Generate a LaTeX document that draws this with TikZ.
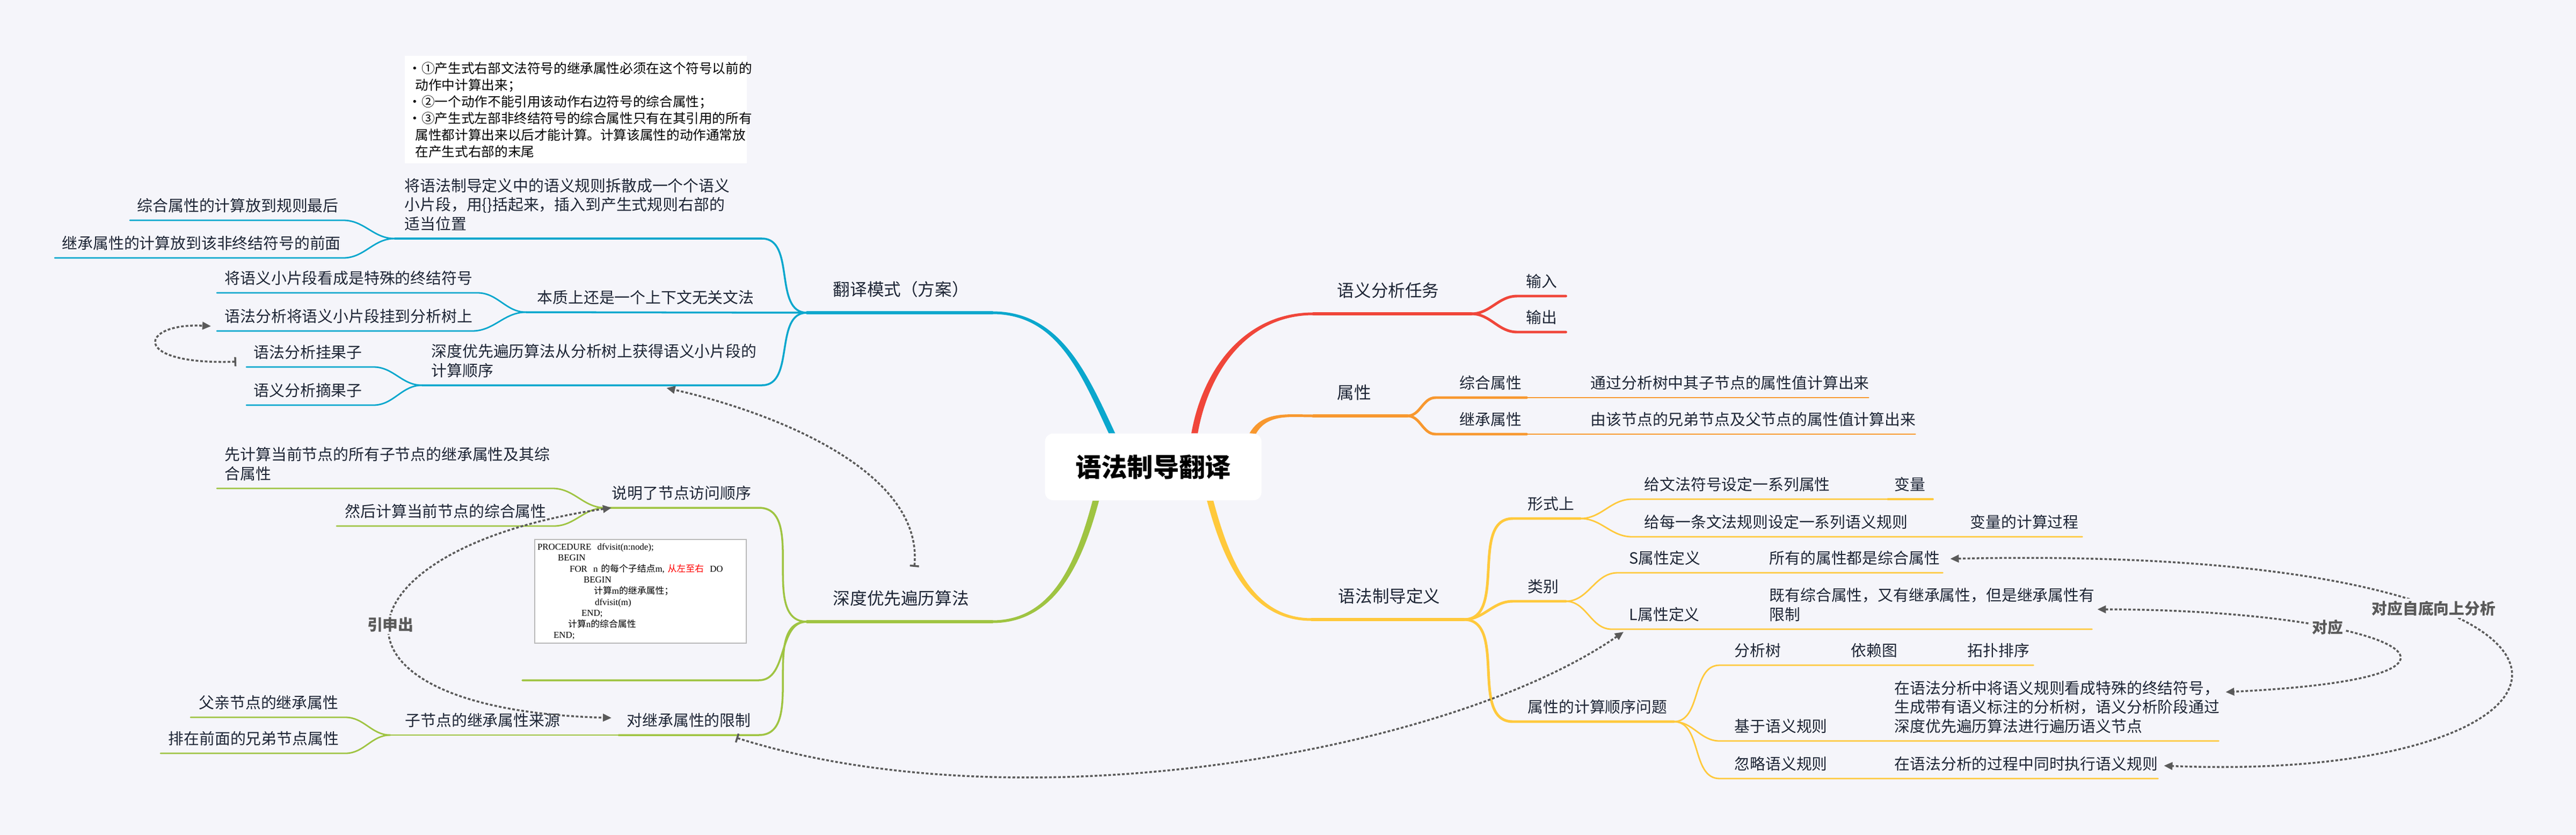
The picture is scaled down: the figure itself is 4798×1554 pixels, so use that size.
\documentclass[tikz,border=0pt]{standalone}
\usepackage{fontspec}
\setmainfont{Noto Sans CJK SC}
\newfontfamily\cjk{Noto Sans CJK SC}
\newfontfamily\codefont{Liberation Serif}
\usepackage{tikz}
\usetikzlibrary{shapes,arrows,arrows.meta}
\usetikzlibrary{calc}
\usetikzlibrary{positioning}

\definecolor{bg}{HTML}{F5F5FA}
\definecolor{ink}{HTML}{1D2535}
\definecolor{cblue}{HTML}{0AA7CD}
\definecolor{cred}{HTML}{F0463A}
\definecolor{corange}{HTML}{F8982F}
\definecolor{cyellow}{HTML}{FFC93C}
\definecolor{cgreen}{HTML}{9FC442}
\definecolor{cgray}{HTML}{5A5A5A}

\newcommand\fntroot{\fontsize{13.7}{16}\selectfont\bfseries}
\newcommand\fntmain{\fontsize{9}{11}\selectfont}
\newcommand\fntsub{\fontsize{8.2}{10}\selectfont}
\newcommand\fntrule{\fontsize{7}{8.8}\selectfont}
\newcommand\fntcode{\fontsize{4.8}{5.86}\selectfont}

\tikzstyle{rootbox} = [rectangle, rounded corners=0.15cm, fill=white, minimum width=4.03cm, minimum height=1.24cm, inner sep=0pt, font=\fntroot, text=black]
\tikzset{topic/.style 2 args={anchor=south west, align=left, text=ink, font=\fntsub, inner ysep=0.056cm, inner xsep=#2*0.01cm, text width=#1*0.01cm-#2*0.02cm, execute at end node=\strut}}
\tikzset{main/.style 2 args={topic={#1}{#2}, font=\fntmain, inner ysep=0.194cm}}
\tikzstyle{rulebox} = [fill=white, font=\fntrule, text=black, align=left, text width=6.23cm, inner xsep=0.07cm, inner ysep=0.08cm, minimum height=2cm]
\tikzstyle{codebox} = [draw=gray!55, line width=0.5pt, fill=white, font=\codefont\fntcode, text=black, align=left, text width=3.84cm, inner xsep=0.05cm, inner ysep=0.06cm, minimum height=1.93cm]
\tikzstyle{br1} = [line width=1.5pt, line cap=round]
\tikzstyle{brT} = [line width=1.4pt, line cap=round]
\tikzstyle{br2} = [line width=1pt, line cap=round]
\tikzstyle{br3} = [line width=0.8pt, line cap=round]
\tikzstyle{rel} = [draw=cgray, line width=1pt, dash pattern=on 0.05cm off 0.035cm, >={Triangle[length=0.16cm, width=0.14cm]}]
\tikzstyle{tee} = [{Bar[width=0.17cm]}->]
\tikzstyle{rellabel} = [fill=bg, text=cgray, font=\fntsub\bfseries, inner sep=0.04cm]

\begin{document}
\begin{tikzpicture}[x=0.01cm, y=-0.01cm]
\useasboundingbox (0,0) rectangle (4798,1554);
\fill[bg] (0,0) rectangle (4798,1554);

 \node[rootbox] (root) at (2148,869) {语法制导翻译};

 % left: translation scheme
 \node[main={344}{48}] (fanyi) at (1503,582) {翻译模式（方案）};
 \node[topic={683}{18}] (jiangyu) at (735,444) {将语法制导定义中的语义规则拆散成一个个语义\\小片段，用\{\}括起来，插入到产生式规则右部的\\适当位置};
 \node[rulebox, above right=0.21cm and 0.18cm of jiangyu.north west] (rules) {•①产生式右部文法符号的继承属性必须在这个符号以前的\\\hspace*{0.13cm}动作中计算出来；\\•②一个动作不能引用该动作右边符号的综合属性；\\•③产生式左部非终结符号的综合属性只有在其引用的所有\\\hspace*{0.13cm}属性都计算出来以后才能计算。计算该属性的动作通常放\\\hspace*{0.13cm}在产生式右部的末尾};
 \node[topic={396}{13}] (zonghe1) at (242,410) {综合属性的计算放到规则最后};
 \node[topic={536}{13}] (jicheng1) at (102,480) {继承属性的计算放到该非终结符号的前面};
 \node[topic={520}{20}] (benzhi) at (980,581) {本质上还是一个上下文无关文法};
 \node[topic={484}{14}] (kanzuo) at (404,545) {将语义小片段看成是特殊的终结符号};
 \node[topic={474}{14}] (guadao) at (404,616) {语法分析将语义小片段挂到分析树上};
 \node[topic={632}{17}] (huoqu) at (786,717) {深度优先遍历算法从分析树上获得语义小片段的\\计算顺序};
 \node[topic={235}{13}] (guaguo) at (459,683) {语法分析挂果子};
 \node[topic={235}{13}] (zhaiguo) at (459,754) {语义分析摘果子};

 % left: depth first traversal
 \node[main={344}{48}] (dfs) at (1503,1157) {深度优先遍历算法};
 \node[topic={285}{12}] (shunxu1) at (1127,945) {说明了节点访问顺序};
 \node[topic={624}{14}] (xianji) at (404,909) {先计算当前节点的所有子节点的继承属性及其综\\合属性};
 \node[topic={403}{15}] (ranhou) at (627,979) {然后计算当前节点的综合属性};
 \node[topic={439}{15}] (imgtopic) at (973,1266) {};
 \node[codebox, above=0.2cm of imgtopic] (code) {PROCEDURE\ \ dfvisit(n:node);\\
\hspace*{0.38cm}BEGIN\\
\hspace*{0.6cm}FOR\ \ n {\cjk 的每个子结点}m, \textcolor{red}{\cjk 从左至右}\ \ DO\\
\hspace*{0.86cm}BEGIN\\
\hspace*{1.05cm}{\cjk 计算}m{\cjk 的继承属性；}\\
\hspace*{1.07cm}dfvisit(m)\\
\hspace*{0.82cm}END;\\
\hspace*{0.57cm}{\cjk 计算}n{\cjk 的综合属性}\\
\hspace*{0.3cm}END;};
 \node[topic={260}{15}] (xianzhi) at (1152,1368) {对继承属性的限制};
 \node[topic={425}{27}] (laiyuan) at (727,1368) {子节点的继承属性来源};
 \node[topic={287}{15}] (fuqin) at (355,1335) {父亲节点的继承属性};
 \node[topic={343}{14}] (xiongdi) at (299,1402) {排在前面的兄弟节点属性};

 % right: tasks and attributes
 \node[main={293}{44}] (renwu) at (2446,584) {语义分析任务};
 \node[topic={89}{16}] (shuru) at (2826,551) {输入};
 \node[topic={89}{16}] (shuchu) at (2826,618) {输出};
 \node[main={174}{44}] (shuxing) at (2446,774) {属性};
 \node[topic={168}{44}] (zonghe2) at (2674,740) {综合属性};
 \node[topic={531}{14}] (tongguo) at (2948,740) {通过分析树中其子节点的属性值计算出来};
 \node[topic={168}{44}] (jicheng2) at (2674,808) {继承属性};
 \node[topic={618}{14}] (youlai) at (2948,808) {由该节点的兄弟节点及父节点的属性值计算出来};

 % right: definition
 \node[main={282}{49}] (dingyi) at (2443,1153) {语法制导定义};
 \node[topic={124}{27}] (xingshi) at (2818,965) {形式上};
 \node[topic={477}{22}] (gei1) at (3040,929) {给文法符号设定一系列属性};
 \node[topic={81}{11}] (bianliang) at (3517,929) {变量};
 \node[topic={605}{22}] (gei2) at (3040,999) {给每一条文法规则设定一系列语义规则};
 \node[topic={232}{24}] (guocheng) at (3645,999) {变量的计算过程};
 \node[topic={97}{27}] (leibie) at (2818,1119) {类别};
 \node[topic={268}{21}] (sdef) at (3013,1066) {S属性定义};
 \node[topic={336}{14}] (quanzong) at (3281,1066) {所有的属性都是综合属性};
 \node[topic={279}{32}] (ldef) at (3002,1171) {L属性定义};
 \node[topic={614}{14}] (youxian) at (3281,1171) {既有综合属性，又有继承属性，但是继承属性有\\限制};
 \node[topic={298}{27}] (shunxu2) at (2818,1343) {属性的计算顺序问题};
 \node[topic={230}{27}] (fenxishu) at (3203,1238) {分析树};
 \node[topic={217}{14}] (yilai) at (3433,1238) {依赖图};
 \node[topic={136}{14}] (tuopu) at (3650,1238) {拓扑排序};
 \node[topic={311}{27}] (jiyu) at (3203,1379) {基于语义规则};
 \node[topic={617}{14}] (jiyutext) at (3514,1379) {在语法分析中将语义规则看成特殊的终结符号，\\生成带有语义标注的分析树，语义分析阶段通过\\深度优先遍历算法进行遍历语义节点};
 \node[topic={311}{27}] (hulue) at (3203,1449) {忽略语义规则};
 \node[topic={504}{14}] (huluetext) at (3514,1449) {在语法分析的过程中同时执行语义规则};

 % main branches, thick at the root
 \fill[cblue] ($(root.north)+(-83,0)$) to[out=115,in=0] ($(fanyi.south east)+(0,2.5)$) -- ($(fanyi.south east)+(0,-2.5)$) to[out=0,in=115] ($(root.north)+(-71,0)$) -- cycle;
 \fill[cred] ($(root.north)+(71,0)$) to[out=80,in=180] ($(renwu.south west)+(0,-2.5)$) -- ($(renwu.south west)+(0,2.5)$) to[out=180,in=80] ($(root.north)+(83,0)$) -- cycle;
 \fill[corange] ($(root.north east)+(-23,0)$) to[out=60,in=180] ($(shuxing.south west)+(0,-2.5)$) -- ($(shuxing.south west)+(0,2.5)$) to[out=180,in=60] ($(root.north east)+(-11,1)$) -- cycle;
 \fill[cyellow] ($(root.south)+(112,0)$) to[out=-75,in=180] ($(dingyi.south west)+(0,-2.5)$) -- ($(dingyi.south west)+(0,2.5)$) to[out=180,in=-75] ($(root.south)+(100,0)$) -- cycle;
 \fill[cgreen] ($(root.south)+(-101,0)$) to[out=-105,in=0] ($(dfs.south east)+(0,2.5)$) -- ($(dfs.south east)+(0,-2.5)$) to[out=0,in=-105] ($(root.south)+(-113,0)$) -- cycle;

 % blue
 \draw[br1, cblue] (fanyi.south west) -- (fanyi.south east);
 \draw[br2, cblue] (jiangyu.south west) -- (jiangyu.south east) to[out=0,in=180] (fanyi.south west);
 \draw[br2, cblue] (benzhi.south west) -- (fanyi.south west);
 \draw[br2, cblue] (huoqu.south west) -- (huoqu.south east) to[out=0,in=180] (fanyi.south west);
 \draw[br3, cblue] (zonghe1.south west) -- (zonghe1.south east) to[out=0,in=180] (jiangyu.south west);
 \draw[br3, cblue] (jicheng1.south west) -- (jicheng1.south east) to[out=0,in=180] (jiangyu.south west);
 \draw[br3, cblue] (kanzuo.south west) -- (kanzuo.south east) to[out=0,in=180] (benzhi.south west);
 \draw[br3, cblue] (guadao.south west) -- (guadao.south east) to[out=0,in=180] (benzhi.south west);
 \draw[br3, cblue] (guaguo.south west) -- (guaguo.south east) to[out=0,in=180] (huoqu.south west);
 \draw[br3, cblue] (zhaiguo.south west) -- (zhaiguo.south east) to[out=0,in=180] (huoqu.south west);

 % green
 \draw[br1, cgreen] (dfs.south west) -- (dfs.south east);
 \draw[br2, cgreen] (shunxu1.south west) -- (shunxu1.south east) to[out=0,in=180] (dfs.south west);
 \draw[br2, cgreen] (imgtopic.south west) -- (imgtopic.south east) to[out=0,in=180] (dfs.south west);
 \draw[br2, cgreen] (xianzhi.south west) -- (xianzhi.south east) to[out=0,in=180] (dfs.south west);
 \draw[br3, cgreen] (xianji.south west) -- (xianji.south east) to[out=0,in=180] (shunxu1.south west);
 \draw[br3, cgreen] (ranhou.south west) -- (ranhou.south east) to[out=0,in=180] (shunxu1.south west);
 \draw[br3, cgreen] (laiyuan.south west) -- (xianzhi.south west);
 \draw[br3, cgreen] (fuqin.south west) -- (fuqin.south east) to[out=0,in=180] (laiyuan.south west);
 \draw[br3, cgreen] (xiongdi.south west) -- (xiongdi.south east) to[out=0,in=180] (laiyuan.south west);

 % red and orange
 \draw[br1, cred] (renwu.south west) -- (renwu.south east);
 \draw[brT, cred] (renwu.south east) to[out=0,in=180] (shuru.south west) -- (shuru.south east);
 \draw[brT, cred] (renwu.south east) to[out=0,in=180] (shuchu.south west) -- (shuchu.south east);
 \draw[br1, corange] (shuxing.south west) -- (shuxing.south east);
 \draw[brT, corange] (shuxing.south east) to[out=0,in=180] (zonghe2.south west) -- (zonghe2.south east);
 \draw[brT, corange] (shuxing.south east) to[out=0,in=180] (jicheng2.south west) -- (jicheng2.south east);
 \draw[br3, corange] (zonghe2.south east) -- (tongguo.south east);
 \draw[br3, corange] (jicheng2.south east) -- (youlai.south east);

 % yellow
 \draw[br1, cyellow] (dingyi.south west) -- (dingyi.south east);
 \draw[brT, cyellow] (dingyi.south east) to[out=0,in=180] (xingshi.south west) -- (xingshi.south east);
 \draw[brT, cyellow] (dingyi.south east) to[out=0,in=180] (leibie.south west) -- (leibie.south east);
 \draw[brT, cyellow] (dingyi.south east) to[out=0,in=180] (shunxu2.south west) -- (shunxu2.south east);
 \draw[br3, cyellow] (xingshi.south east) to[out=0,in=180] (gei1.south west) -- (gei1.south east);
 \draw[brT, cyellow] (bianliang.south west) -- (bianliang.south east);
 \draw[br3, cyellow] (xingshi.south east) to[out=0,in=180] (gei2.south west) -- (guocheng.south east);
 \draw[br3, cyellow] (leibie.south east) to[out=0,in=180] (sdef.south west) -- (quanzong.south east);
 \draw[br3, cyellow] (leibie.south east) to[out=0,in=180] (ldef.south west) -- (youxian.south east);
 \draw[br3, cyellow] (shunxu2.south east) to[out=0,in=180] (fenxishu.south west) -- (tuopu.south east);
 \draw[br3, cyellow] (shunxu2.south east) to[out=0,in=180] (jiyu.south west) -- (jiyutext.south east);
 \draw[br3, cyellow] (shunxu2.south east) to[out=0,in=180] (hulue.south west) -- (huluetext.south east);

 % relations
 \path[rel, tee] ($(guaguo.south west)+(-19,-10)$) .. controls +(-200,7) and +(-133,-7) .. ($(guadao.south west)+(-11,-9)$);
 \path[rel, tee] ($(dfs.south west)+(200,-102)$) .. controls +(17,-175) and +(210,48) .. ($(huoqu.south east)+(-178,5)$);
 \path[rel, <->] ($(shunxu1.south west)+(12,0)$) .. controls +(-519,75) and +(-579,-16) .. ($(xianzhi.south west)+(-13,-32)$) node[rellabel, pos=0.5] (yinshen) {引申出};
 \path[rel, tee] ($(xianzhi.south east)+(-42,5)$) .. controls +(530,167) and +(-324,224) .. ($(ldef.south west)+(22,5)$);
 \path[rel, <->] ($(quanzong.south east)+(14,-26)$) .. controls +(1369,-30) and +(871,35) .. ($(huluetext.south east)+(11,-24)$) node[rellabel, pos=0.33] (ziding) {对应自底向上分析};
 \path[rel, <->] ($(youxian.south east)+(10,-37)$) .. controls +(545,1) and +(576,-28) .. ($(jiyutext.south east)+(13,-91)$) node[rellabel, pos=0.33] (duiying) {对应};
\end{tikzpicture}
\end{document}
